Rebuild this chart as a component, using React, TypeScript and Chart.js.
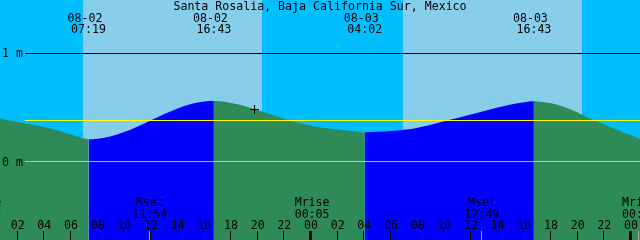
import React, { useEffect, useRef } from 'react';
import { Chart, registerables } from 'chart.js';

Chart.register(...registerables);

const title = 'Santa Rosalia, Baja California Sur, Mexico';

// hours since 08-02 00:00, tide level in metres
const tideHours = [0, 1, 2, 3, 4, 5, 6, 7, 7.317, 8, 9, 10, 11, 12, 13, 14, 15, 16, 16.717, 17, 18, 19, 20, 21, 22, 23, 24, 25, 26, 27, 28.033, 29, 30, 31, 32, 33, 34, 35, 36, 37, 38, 39, 40, 40.717, 41, 42, 43, 44, 45, 46, 47, 48, 49];
const tideLevels = [0.426, 0.394, 0.370, 0.347, 0.321, 0.292, 0.255, 0.217, 0.210, 0.215, 0.238, 0.277, 0.328, 0.386, 0.445, 0.496, 0.536, 0.560, 0.565, 0.564, 0.546, 0.519, 0.481, 0.440, 0.398, 0.363, 0.335, 0.315, 0.300, 0.287, 0.275, 0.279, 0.287, 0.298, 0.317, 0.344, 0.377, 0.407, 0.440, 0.472, 0.505, 0.532, 0.554, 0.562, 0.561, 0.543, 0.509, 0.458, 0.398, 0.347, 0.296, 0.247, 0.199];

// tide extremes
const eventDates = ['08-02', '08-02', '08-03', '08-03'];
const eventTimes = ['07:19', '16:43', '04:02', '16:43'];
const eventHours = [7.317, 16.717, 28.033, 40.717];

// daylight
const dayStarts = [6.9, 30.9];
const dayEnds = [20.325, 44.325];

// moon events
const moonNames = ['Mrise', 'Mset', 'Mrise', 'Mset', 'Mrise'];
const moonTimes = ['23:27', '11:54', '00:05', '12:49', '00:38'];
const moonHours = [-0.55, 11.9, 24.083, 36.817, 48.633];

// hour axis
const hourTicks = [0, 2, 4, 6, 8, 10, 12, 14, 16, 18, 20, 22, 24, 26, 28, 30, 32, 34, 36, 38, 40, 42, 44, 46, 48];
const hourLabels = ['00', '02', '04', '06', '08', '10', '12', '14', '16', '18', '20', '22', '00', '02', '04', '06', '08', '10', '12', '14', '16', '18', '20', '22', '00'];

// level axis
const levelTicks = [0, 1];
const levelLabels = ['0 m', '1 m'];
const meanLevel = 0.38;

const markHour = 19.72;
const markLevel = 0.49;

const X_MIN = 0.675;
const X_MAX = 48.675;
const Y_MIN = -0.7222;
const Y_MAX = 1.5;

const NIGHT = '#00BFFF';
const DAY = '#87CEEB';
const FLOOD = '#0000FF';
const EBB = '#2E8B57';
const FONT = '11.6px "DejaVu Sans Mono", monospace';

const tidePlugin = {
  id: 'tideDecor',
  beforeDraw(chart: any) {
    const { ctx, scales } = chart;
    const xs = scales.x;
    ctx.save();
    ctx.fillStyle = NIGHT;
    ctx.fillRect(0, 0, chart.width, chart.height);
    ctx.fillStyle = DAY;
    for (let i = 0; i < dayStarts.length; i++) {
      const a = Math.round(xs.getPixelForValue(dayStarts[i]));
      const b = Math.round(xs.getPixelForValue(dayEnds[i]));
      ctx.fillRect(a, 0, b - a, chart.height);
    }
    ctx.restore();
  },
  afterDatasetsDraw(chart: any) {
    const { ctx, scales } = chart;
    const xs = scales.x;
    const ys = scales.y;
    const W = chart.width;
    ctx.save();
    // level lines
    const y0 = Math.round(ys.getPixelForValue(levelTicks[0])) - 1;
    const y1 = Math.round(ys.getPixelForValue(levelTicks[1])) - 1;
    const ym = Math.round(ys.getPixelForValue(meanLevel)) - 1;
    ctx.fillStyle = '#87CEEB';
    ctx.fillRect(25, y0, W - 25, 1);
    ctx.fillStyle = '#000000';
    ctx.fillRect(25, y1, W - 25, 1);
    ctx.fillStyle = '#FFFF00';
    ctx.fillRect(25, ym, W - 25, 1);

    ctx.font = FONT;
    ctx.fillStyle = '#000000';
    ctx.textBaseline = 'alphabetic';
    // level labels
    ctx.textAlign = 'left';
    ctx.fillText(levelLabels[0], 2, y0 + 4.5);
    ctx.fillText(levelLabels[1], 2, y1 + 4);

    // title
    ctx.textAlign = 'center';
    ctx.fillText(title, W / 2, 10);

    // tide events
    for (let i = 0; i < eventHours.length; i++) {
      const x = xs.getPixelForValue(eventHours[i]);
      ctx.fillText(eventDates[i], x - 3.5, 22);
      ctx.fillText(eventTimes[i], x, 33);
    }

    // moon events
    for (let i = 0; i < moonHours.length; i++) {
      const x = xs.getPixelForValue(moonHours[i]);
      ctx.fillText(moonNames[i], x, 206);
      ctx.fillText(moonTimes[i], x, 218);
      ctx.fillStyle = '#A8A8A8';
      ctx.fillRect(Math.round(x) - 1, 231, 1, 9);
      ctx.fillStyle = '#000000';
    }

    // hour ticks & labels
    for (let i = 0; i < hourTicks.length; i++) {
      const x = xs.getPixelForValue(hourTicks[i]);
      const px = Math.round(x) - 1;
      if (hourTicks[i] % 24 === 0) ctx.fillRect(px - 1, 231, 3, 9);
      else ctx.fillRect(px, 231, 1, 9);
      ctx.fillText(hourLabels[i], x, 229);
    }

    // mark
    const mx = Math.round(xs.getPixelForValue(markHour));
    const my = Math.round(ys.getPixelForValue(markLevel));
    ctx.fillRect(mx - 4, my, 9, 1);
    ctx.fillRect(mx, my - 4, 1, 9);
    ctx.restore();
  },
};

export default function App() {
  const ref = useRef<HTMLCanvasElement | null>(null);
  useEffect(() => {
    document.body.style.margin = '0';
    const canvas = ref.current;
    if (!canvas) return;
    const data = tideHours.map((h, i) => ({ x: h, y: tideLevels[i] }));
    const chart = new Chart(canvas, {
      type: 'line',
      data: {
        datasets: [
          {
            data,
            fill: 'start',
            backgroundColor: EBB,
            borderColor: 'rgba(0,0,0,0)',
            borderWidth: 0,
            pointRadius: 0,
            cubicInterpolationMode: 'monotone',
            segment: {
              backgroundColor: (c: any) => (c.p1.parsed.y >= c.p0.parsed.y ? FLOOD : EBB),
            },
          } as any,
        ],
      },
      options: {
        responsive: false,
        animation: false,
        devicePixelRatio: 1,
        layout: { padding: 0 },
        plugins: { legend: { display: false }, tooltip: { enabled: false } },
        events: [],
        scales: {
          x: { type: 'linear', min: X_MIN, max: X_MAX, display: false },
          y: { type: 'linear', min: Y_MIN, max: Y_MAX, display: false },
        },
      },
      plugins: [tidePlugin],
    });
    return () => chart.destroy();
  }, []);
  return <canvas ref={ref} width={640} height={240} style={{ display: 'block', width: 640, height: 240 }} />;
}
